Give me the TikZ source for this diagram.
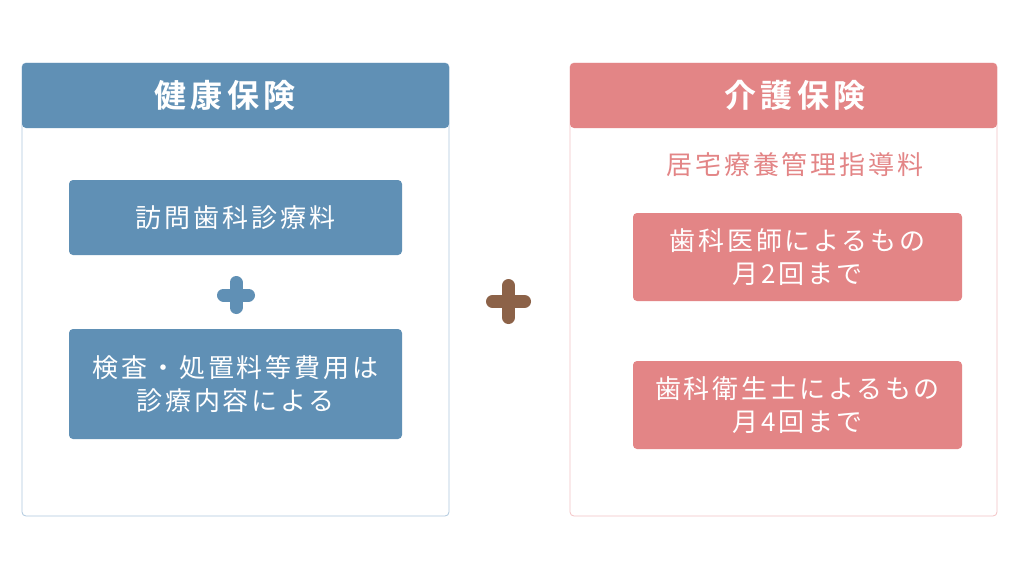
\documentclass[tikz,border=0pt]{standalone}
\usepackage{fontspec}
\newfontfamily\jp[LetterSpace=11]{Noto Sans CJK JP}
\newfontfamily\jpbold[LetterSpace=14]{Noto Sans CJK JP Bold}
\definecolor{kenpo}{HTML}{6090B5}
\definecolor{kenpoline}{HTML}{AFC8DE}
\definecolor{kaigo}{HTML}{E38586}
\definecolor{kaigoline}{HTML}{F3C2C4}
\definecolor{plusbrown}{HTML}{8C6248}
\begin{document}
\begin{tikzpicture}[x=1pt,y=-1pt,
  panel/.style={draw, line width=0.8pt, rounded corners=4pt},
  head/.style={rounded corners=4pt, minimum width=427pt, minimum height=65pt},
  title/.style={text=white, font=\jpbold\fontsize{32}{36}\selectfont},
  item/.style={rounded corners=4pt, text=white, align=center,
    font=\jp\fontsize{26}{33}\selectfont},
  plussign/.style={line width=13pt, line cap=round}]
\useasboundingbox[fill=white] (0,0) rectangle (1024,570);
% left side
\draw[panel, kenpoline] (22,63) rectangle (449,516);
\node[head, fill=kenpo] (kenpohead) at (235.5,95.5){};
\node[title] (kenpotitle) at (225,95.5){健康保険};
\node[item, fill=kenpo, minimum width=333pt, minimum height=75pt] (houmon) at (235.5,217.5){訪問歯科診療料};
\node[item, fill=kenpo, minimum width=333pt, minimum height=110pt] (kensa) at (235.5,384){検査・処置料等費用は\\診療内容による};
\draw[plussign, kenpo] (223.5,295) -- (248.5,295) (236,282.5) -- (236,307.5);
% middle
\draw[plussign, plusbrown] (492.5,301.5) -- (524.5,301.5) (508.5,285.5) -- (508.5,317.5);
% right side
\draw[panel, kaigoline] (570,63) rectangle (997,516);
\node[head, fill=kaigo] (kaigohead) at (783.5,95.5){};
\node[title] (kaigotitle) at (795,95.5){介護保険};
\node[text=kaigo, font=\jp\fontsize{26}{30}\selectfont] (kyotaku) at (795,165){居宅療養管理指導料};
\node[item, fill=kaigo, minimum width=329pt, minimum height=88pt] (ishi) at (797.5,257){歯科医師によるもの\\月2回まで};
\node[item, fill=kaigo, minimum width=329pt, minimum height=88pt] (eisei) at (797.5,405){歯科衛生士によるもの\\月4回まで};
\end{tikzpicture}
\end{document}
